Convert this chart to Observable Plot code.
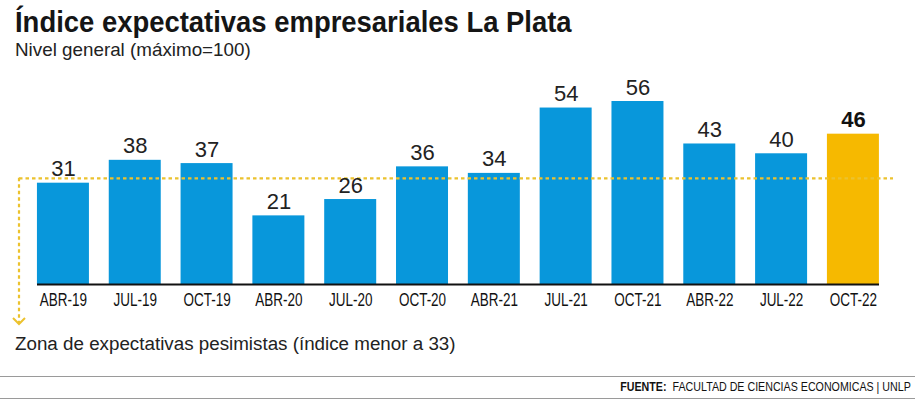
<!DOCTYPE html>
<html>
<head>
<meta charset="utf-8">
<script src="https://cdn.jsdelivr.net/npm/d3@7"></script>
<script src="https://cdn.jsdelivr.net/npm/@observablehq/plot@0.6"></script>
<style>
  html, body { margin: 0; padding: 0; background: #fff; }
  #wrap { position: relative; width: 915px; height: 400px; overflow: hidden; font-family: "Liberation Sans", Arial, sans-serif; color: #1a1a1a; }
  #title { position: absolute; left: 15px; top: 8px; font-weight: bold; font-size: 29px; line-height: 1; white-space: nowrap; color: #151515; transform: scaleX(0.946); transform-origin: 0 0; }
  #subtitle { position: absolute; left: 15px; top: 40px; font-size: 19px; line-height: 1; white-space: nowrap; color: #222; transform: scaleX(0.99); transform-origin: 0 0; }
  #chart { position: absolute; left: 0; top: 58px; }
  #nota { position: absolute; left: 15px; top: 335px; font-size: 18.8px; line-height: 1; white-space: nowrap; color: #222; }
  #linea1 { position: absolute; left: 0; top: 376px; width: 915px; height: 0; border-top: 1.5px solid #9a9a9a; }
  #linea2 { position: absolute; left: 0; top: 398px; width: 915px; height: 0; border-top: 1.5px solid #9a9a9a; }
  #fuente { position: absolute; right: 4px; top: 380px; font-size: 13.5px; line-height: 1; white-space: nowrap; color: #111; transform: scaleX(0.79); transform-origin: 100% 0; }
  #fuente b { font-weight: 900; font-size: 13.5px; margin-right: 4px; }
</style>
</head>
<body>
<div id="wrap">
  <div id="title">Índice expectativas empresariales La Plata</div>
  <div id="subtitle">Nivel general (máximo=100)</div>
  <div id="chart"></div>
  <div id="nota">Zona de expectativas pesimistas (índice menor a 33)</div>
  <div id="linea1"></div>
  <div id="fuente"><b>FUENTE:</b> FACULTAD DE CIENCIAS ECONOMICAS | UNLP</div>
  <div id="linea2"></div>
</div>
<script>
// Data
const periodos = ["ABR-19","JUL-19","OCT-19","ABR-20","JUL-20","OCT-20","ABR-21","JUL-21","OCT-21","ABR-22","JUL-22","OCT-22"];
const valores  = [31, 38, 37, 21, 26, 36, 34, 54, 56, 43, 40, 46];
const destacado = "OCT-22";
const umbral = 32.5;

const datos = periodos.map((p, i) => ({periodo: p, valor: valores[i], tipo: p === destacado ? "actual" : "anterior"}));

const azul = "#0897db";
const amarillo = "#f6b900";
const punteado = "#ecc22e";

const plot = Plot.plot({
  width: 915,
  height: 278,
  marginLeft: 19,
  marginRight: 22,
  marginTop: 43,
  marginBottom: 52,
  style: {fontFamily: "'Liberation Sans', sans-serif", background: "transparent", overflow: "visible"},
  x: {domain: periodos, paddingInner: 0.276, paddingOuter: 0.223, align: 0.56, round: false, label: null},
  y: {domain: [0, 56], axis: null},
  color: {domain: ["anterior", "actual"], range: [azul, amarillo]},
  marks: [
    Plot.barY(datos, {x: "periodo", y: "valor", fill: "tipo"}),
    Plot.ruleY([umbral], {stroke: punteado, strokeWidth: 2.2, strokeDasharray: "3.5,3"}),
    Plot.ruleY([0], {stroke: "#111", strokeWidth: 2, insetLeft: 18, insetRight: 14}),
    Plot.text(datos.filter(d => d.tipo !== "actual"), {x: "periodo", y: "valor", text: d => String(d.valor), dy: -7, lineAnchor: "bottom", fontSize: 22, fill: "#222"}),
    Plot.text(datos.filter(d => d.tipo === "actual"), {x: "periodo", y: "valor", text: d => String(d.valor), dy: -7, lineAnchor: "bottom", fontSize: 22, fontWeight: "bold", fill: "#111"}),
    Plot.axisX({tickSize: 0, tickPadding: 9, fontSize: 17.5, fill: "#111", label: null})
  ]
});
document.getElementById("chart").appendChild(plot);

const svg = d3.select(plot);

// Condensed look for the period labels
svg.selectAll('g[aria-label="x-axis tick label"] text').each(function() {
  const w = this.getComputedTextLength();
  this.setAttribute("textLength", (w * 0.77).toFixed(1));
  this.setAttribute("lengthAdjust", "spacingAndGlyphs");
});

// Leader from the threshold line down to the note (annotation)
const yUmbral = plot.scale("y").apply(umbral);
const xLeft = 19;
const yFin = 266;
svg.append("line")
  .attr("x1", xLeft).attr("x2", xLeft)
  .attr("y1", yUmbral).attr("y2", yFin)
  .attr("stroke", punteado).attr("stroke-width", 2.2).attr("stroke-dasharray", "3.5,3");
svg.append("path")
  .attr("d", `M${xLeft - 6},${yFin - 6} L${xLeft},${yFin} L${xLeft + 6},${yFin - 6}`)
  .attr("fill", "none").attr("stroke", punteado).attr("stroke-width", 2);
</script>
</body>
</html>
